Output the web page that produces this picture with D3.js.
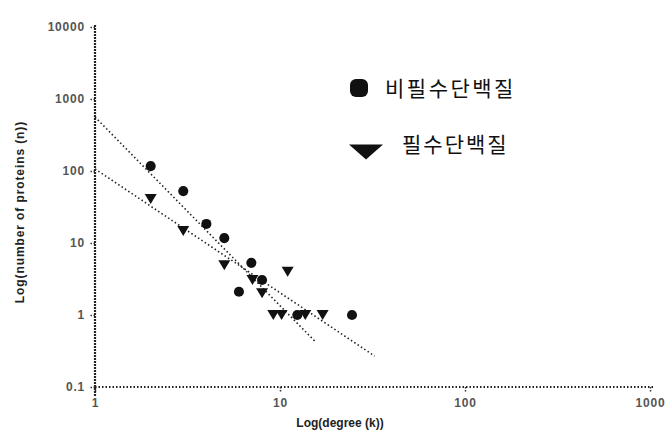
<!DOCTYPE html>
<html>
<head>
<meta charset="utf-8">
<script src="https://cdn.jsdelivr.net/npm/d3@7"></script>
<style>
  html, body { margin: 0; padding: 0; background: #fff; }
  svg { display: block; }
</style>
</head>
<body>
<svg id="chart" width="668" height="438"></svg>
<script>
// Degree distribution of protein interaction network (log-log)
const seriesNames = ["비필수단백질", "필수단백질"];

// Non-essential proteins: degree k and number of proteins n
const nonEssentialK = [2, 3, 4, 5, 6, 7, 8, 12.4, 24.5];
const nonEssentialN = [117, 52.6, 18.4, 11.7, 2.1, 5.3, 3.06, 1, 1];

// Essential proteins
const essentialK = [2, 3, 5, 7.1, 8, 11, 9.2, 10.2, 13.7, 17];
const essentialN = [40.8, 14.7, 4.9, 3.06, 2.0, 4.0, 1, 1, 1, 1];

// Power-law fits n = a * k^b, drawn over [1, kMax]
const fitA = [562, 107];
const fitB = [-2.62, -1.72];
const fitKMax = [15.4, 32.5];

const yTicks = [0.1, 1, 10, 100, 1000, 10000];
const yTickLabels = ["0.1", "1", "10", "100", "1000", "10000"];
const xTicks = [1, 10, 100, 1000];
const xTickLabels = ["1", "10", "100", "1000"];

const xTitle = "Log(degree (k))";
const yTitle = "Log(number of proteins (n))";

const svg = d3.select("#chart");
const ink = "#111";

const x = d3.scaleLog().domain([1, 1000]).range([95, 650]);
const y = d3.scaleLog().domain([0.1, 10000]).range([387, 27]);

// Axes
const yAxis = d3.axisLeft(y).tickValues(yTicks)
  .tickFormat((d, i) => yTickLabels[i]).tickSize(6).tickPadding(4);
const xAxis = d3.axisBottom(x).tickValues(xTicks)
  .tickFormat((d, i) => xTickLabels[i]).tickSize(5).tickPadding(6);

const gy = svg.append("g").attr("transform", `translate(${x(1)},0)`).call(yAxis);
const gx = svg.append("g").attr("transform", `translate(0,${y(0.1)})`).call(xAxis);

[gx, gy].forEach(g => {
  g.select(".domain").remove();
  g.selectAll(".tick line")
    .attr("stroke", "#333").attr("stroke-width", 1.5)
    .attr("stroke-dasharray", "1.5,1.5");
  g.selectAll(".tick text")
    .attr("fill", "#555")
    .style("font-family", "'Liberation Sans', Arial, sans-serif")
    .style("font-size", "12px")
    .style("font-weight", "bold")
    .style("letter-spacing", "0.8px");
});

// Axis lines drawn as grainy dotted strokes
svg.append("line")
  .attr("x1", x(1)).attr("x2", x(1))
  .attr("y1", y(10000) - 2).attr("y2", y(0.1) + 10)
  .attr("stroke", "#222").attr("stroke-width", 2.2)
  .attr("stroke-dasharray", "2,1");
svg.append("line")
  .attr("x1", x(1)).attr("x2", x(1000) + 5)
  .attr("y1", y(0.1)).attr("y2", y(0.1))
  .attr("stroke", "#222").attr("stroke-width", 1.8)
  .attr("stroke-dasharray", "1.5,2");

// Fit lines
const fitLine = d3.line().x(d => x(d[0])).y(d => y(d[1]));
fitA.forEach((a, i) => {
  const pts = [1, fitKMax[i]].map(k => [k, a * Math.pow(k, fitB[i])]);
  svg.append("path")
    .attr("d", fitLine(pts))
    .attr("fill", "none")
    .attr("stroke", "#222")
    .attr("stroke-width", 1.6)
    .attr("stroke-dasharray", "1.5,2.5");
});

// Markers
const circlePts = nonEssentialK.map((k, i) => [k, nonEssentialN[i]]);
const trianglePts = essentialK.map((k, i) => [k, essentialN[i]]);

svg.append("g").selectAll("path").data(circlePts).join("path")
  .attr("d", d3.symbol(d3.symbolCircle, 80))
  .attr("transform", d => `translate(${x(d[0])},${y(d[1])})`)
  .attr("fill", ink);

const tri = (w, h) => `M${-w / 2},${-h / 2}L${w / 2},${-h / 2}L0,${h / 2}Z`;
svg.append("g").selectAll("path").data(trianglePts).join("path")
  .attr("d", tri(12, 10))
  .attr("transform", d => `translate(${x(d[0])},${y(d[1])})`)
  .attr("fill", ink);

// Legend
const legendFont = "'Noto Sans CJK KR', 'Noto Sans', sans-serif";
svg.append("rect")
  .attr("x", 350).attr("y", 79).attr("width", 18).attr("height", 18)
  .attr("rx", 6).attr("fill", ink);
svg.append("text")
  .attr("x", 385).attr("y", 96)
  .style("font-family", legendFont).style("font-size", "21px")
  .style("letter-spacing", "2.5px")
  .attr("fill", ink).text(seriesNames[0]);

svg.append("path")
  .attr("d", tri(34, 15))
  .attr("transform", "translate(366,152)")
  .attr("fill", ink);
svg.append("text")
  .attr("x", 402).attr("y", 152)
  .style("font-family", legendFont).style("font-size", "21px")
  .style("letter-spacing", "2px")
  .attr("fill", ink).text(seriesNames[1]);

// Axis titles
svg.append("text")
  .attr("x", 340).attr("y", 427)
  .attr("text-anchor", "middle")
  .style("font-family", "'Liberation Sans', Arial, sans-serif")
  .style("font-size", "12px").style("font-weight", "bold")
  .attr("fill", "#222")
  .text(xTitle);

svg.append("text")
  .attr("transform", "translate(24,212) rotate(-90)")
  .attr("text-anchor", "middle")
  .style("font-family", "'Liberation Sans', Arial, sans-serif")
  .style("font-size", "12px").style("font-weight", "bold")
  .style("letter-spacing", "0.9px")
  .attr("fill", "#222")
  .text(yTitle);
</script>
</body>
</html>
